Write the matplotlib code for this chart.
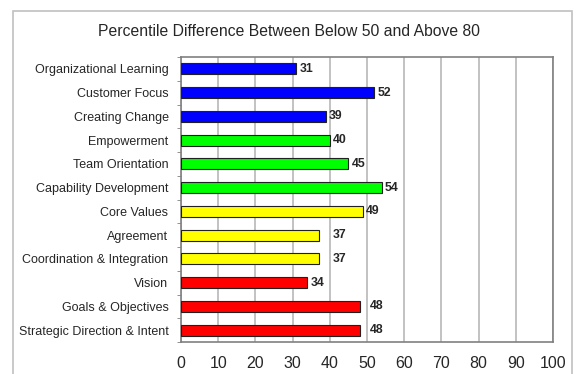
import matplotlib.pyplot as plt
from matplotlib.patches import Rectangle

plt.rcParams['font.family'] = ['Liberation Sans', 'DejaVu Sans']

categories = ['Organizational Learning', 'Customer Focus', 'Creating Change',
              'Empowerment', 'Team Orientation', 'Capability Development',
              'Core Values', 'Agreement', 'Coordination & Integration',
              'Vision', 'Goals & Objectives', 'Strategic Direction & Intent']
values = [31, 52, 39, 40, 45, 54, 49, 37, 37, 34, 48, 48]
colors = ['#0000ff'] * 3 + ['#00ff00'] * 3 + ['#ffff00'] * 3 + ['#ff0000'] * 3
# excel pushed some labels further right
label_pad = [0.8, 0.8, 0.8, 0.8, 0.8, 0.8, 0.8, 3.7, 3.7, 0.8, 2.9, 2.9]
xticks = list(range(0, 101, 10))

W, H = 578, 374
fig = plt.figure(figsize=(W / 100, H / 100), dpi=100)
fig.patches.append(Rectangle((13 / W, -0.01), 559 / W, 1 - 11 / H + 0.01,
                             transform=fig.transFigure, fill=False,
                             edgecolor='#c0c0c0', linewidth=1.2))
ax = fig.add_axes([181 / W, 1 - 342 / H, 372 / W, 285 / H])

pos = list(range(len(categories)))
ax.barh(pos, values, height=0.47, color=colors, edgecolor='#202020', linewidth=0.8, zorder=3)
for p, v, pad in zip(pos, values, label_pad):
    ax.text(v + pad, p, str(v), va='center', ha='left', fontsize=8.8,
            fontweight='bold', color='#262626', zorder=4)

ax.set_xlim(0, 100)
ax.set_ylim(len(categories) - 0.5, -0.5)
ax.set_yticks(pos)
ax.set_yticklabels(categories, fontsize=9, color='#262626')
ax.set_yticks([p - 0.5 for p in pos] + [len(categories) - 0.5], minor=True)
ax.set_xticks(xticks)
ax.set_xticklabels([str(t) for t in xticks], fontsize=11.5, color='#262626')
ax.xaxis.grid(True, color='#b8b8b8', linewidth=1.2, zorder=0)
ax.tick_params(axis='x', length=0, pad=10)
ax.tick_params(axis='y', which='major', length=0, pad=9)
ax.tick_params(axis='y', which='minor', length=3, color='#808080', direction='out')
for s in ax.spines.values():
    s.set_color('#808080')
    s.set_linewidth(1.2)

fig.text(0.5, 1 - 32 / H, 'Percentile Difference Between Below 50 and Above 80',
         ha='center', va='center', fontsize=11.3, color='#262626')

fig.savefig('out.png', dpi=100)
